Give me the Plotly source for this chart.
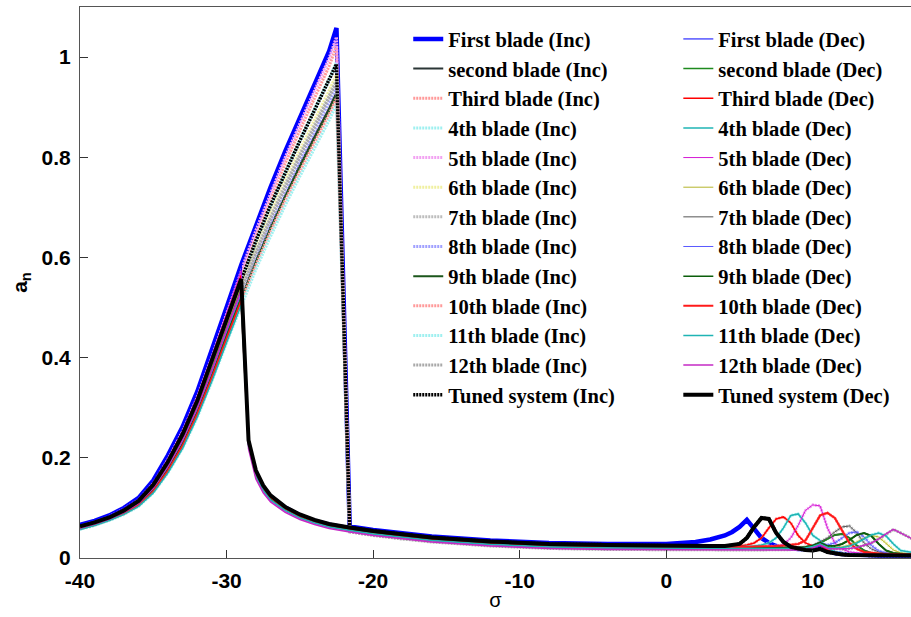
import plotly.graph_objects as go

# ---------------- data ----------------
SIGMA_UPPER = [-40, -39, -38, -37, -36, -35, -34, -33, -32, -31, -30, -29,
               -28, -27, -26, -25, -24, -23, -22.5]
SIGMA_LOWER = [-28.5, -28, -27.5, -27, -26, -25, -24, -23, -22, -21.6, -20, -18,
               -16, -12, -8, -4, 0, 2, 3, 4, 4.5, 5, 5.5, 6, 6.5, 7, 7.5, 8, 8.5,
               9, 9.5, 10, 10.5, 11, 11.5, 12, 12.5, 13, 13.5, 14, 14.5, 15, 15.5,
               16, 17]

BLADES = ["First blade", "second blade", "Third blade", "4th blade", "5th blade",
          "6th blade", "7th blade", "8th blade", "9th blade", "10th blade",
          "11th blade", "12th blade", "Tuned system"]

X_TICKS = [-40, -30, -20, -10, 0, 10]
X_TICK_TEXT = ["-40", "-30", "-20", "-10", "0", "10"]
Y_TICKS = [0, 0.2, 0.4, 0.6, 0.8, 1]
Y_TICK_TEXT = ["0", "0.2", "0.4", "0.6", "0.8", "1"]

# upper (resonant) branch amplitude a_n
UP_B1 = [0.066, 0.074, 0.085, 0.100, 0.120, 0.155, 0.205, 0.262, 0.332, 0.413, 0.500, 0.585, 0.665, 0.740, 0.812, 0.880, 0.945, 1.012, 1.058]
UP_B2 = [0.059, 0.067, 0.077, 0.090, 0.107, 0.136, 0.178, 0.229, 0.293, 0.367, 0.446, 0.522, 0.594, 0.662, 0.725, 0.785, 0.842, 0.898, 0.930]
UP_B3 = [0.063, 0.071, 0.082, 0.096, 0.115, 0.147, 0.194, 0.249, 0.317, 0.396, 0.481, 0.565, 0.644, 0.718, 0.788, 0.854, 0.918, 0.982, 1.022]
UP_B4 = [0.062, 0.070, 0.080, 0.094, 0.112, 0.143, 0.189, 0.243, 0.310, 0.388, 0.471, 0.553, 0.630, 0.702, 0.770, 0.834, 0.896, 0.956, 0.990]
UP_B5 = [0.064, 0.072, 0.083, 0.098, 0.117, 0.150, 0.198, 0.254, 0.323, 0.403, 0.489, 0.574, 0.654, 0.729, 0.800, 0.867, 0.932, 0.998, 1.040]
UP_B6 = [0.061, 0.069, 0.079, 0.093, 0.111, 0.141, 0.186, 0.239, 0.305, 0.381, 0.463, 0.543, 0.618, 0.688, 0.753, 0.815, 0.874, 0.933, 0.965]
UP_B7 = [0.061, 0.069, 0.079, 0.092, 0.110, 0.140, 0.184, 0.237, 0.302, 0.378, 0.459, 0.538, 0.612, 0.681, 0.746, 0.807, 0.865, 0.923, 0.955]
UP_B8 = [0.060, 0.068, 0.078, 0.091, 0.108, 0.137, 0.180, 0.232, 0.296, 0.371, 0.451, 0.528, 0.601, 0.669, 0.733, 0.793, 0.851, 0.908, 0.940]
UP_B9 = [0.059, 0.067, 0.077, 0.089, 0.106, 0.135, 0.177, 0.228, 0.291, 0.364, 0.443, 0.519, 0.591, 0.658, 0.721, 0.780, 0.837, 0.893, 0.925]
UP_B10 = [0.058, 0.066, 0.076, 0.088, 0.105, 0.133, 0.174, 0.224, 0.287, 0.360, 0.438, 0.514, 0.585, 0.652, 0.714, 0.773, 0.830, 0.886, 0.918]
UP_B11 = [0.057, 0.065, 0.075, 0.087, 0.103, 0.130, 0.170, 0.219, 0.281, 0.353, 0.430, 0.505, 0.576, 0.642, 0.704, 0.762, 0.818, 0.874, 0.906]
UP_B12 = [0.060, 0.068, 0.078, 0.091, 0.109, 0.139, 0.183, 0.235, 0.300, 0.375, 0.456, 0.534, 0.608, 0.677, 0.741, 0.802, 0.860, 0.918, 0.950]
UP_TUNED = [0.063, 0.071, 0.081, 0.095, 0.114, 0.146, 0.192, 0.247, 0.314, 0.392, 0.476, 0.557, 0.633, 0.704, 0.770, 0.833, 0.894, 0.953, 0.986]

# lower (non-resonant) branch amplitude a_n
LOW_B1 = [0.240, 0.178, 0.148, 0.128, 0.105, 0.089, 0.078, 0.070, 0.065, 0.063, 0.056, 0.049, 0.043, 0.035, 0.030, 0.028, 0.028, 0.032, 0.037, 0.045,
          0.052, 0.062, 0.076, 0.058, 0.040, 0.030, 0.024, 0.021, 0.019, 0.018, 0.018, 0.020, 0.024, 0.015, 0.010, 0.008, 0.007, 0.006, 0.006, 0.005, 0.005, 0.005, 0.005, 0.005, 0.005]
LOW_B2 = [0.228, 0.168, 0.139, 0.120, 0.098, 0.083, 0.073, 0.065, 0.060, 0.058, 0.051, 0.044, 0.038, 0.030, 0.025, 0.023, 0.022, 0.021, 0.021, 0.021,
          0.021, 0.021, 0.021, 0.021, 0.021, 0.021, 0.021, 0.021, 0.020, 0.020, 0.021, 0.024, 0.030, 0.038, 0.046, 0.048, 0.040, 0.025, 0.015, 0.010, 0.008, 0.007, 0.007, 0.006, 0.006]
LOW_B3 = [0.232, 0.172, 0.142, 0.122, 0.100, 0.085, 0.075, 0.067, 0.062, 0.060, 0.053, 0.046, 0.040, 0.032, 0.027, 0.025, 0.024, 0.023, 0.023, 0.023,
          0.023, 0.024, 0.026, 0.030, 0.040, 0.060, 0.078, 0.082, 0.070, 0.045, 0.030, 0.024, 0.026, 0.016, 0.010, 0.008, 0.007, 0.006, 0.006, 0.006, 0.005, 0.005, 0.005, 0.005, 0.005]
LOW_B4 = [0.226, 0.166, 0.137, 0.118, 0.097, 0.082, 0.072, 0.064, 0.059, 0.057, 0.050, 0.043, 0.037, 0.029, 0.024, 0.022, 0.021, 0.021, 0.021, 0.022,
          0.022, 0.022, 0.023, 0.024, 0.026, 0.030, 0.040, 0.060, 0.085, 0.088, 0.070, 0.045, 0.035, 0.020, 0.012, 0.009, 0.008, 0.007, 0.007, 0.006, 0.006, 0.006, 0.005, 0.005, 0.005]
LOW_B5 = [0.220, 0.160, 0.132, 0.114, 0.093, 0.079, 0.069, 0.061, 0.056, 0.054, 0.047, 0.040, 0.034, 0.026, 0.021, 0.019, 0.018, 0.018, 0.018, 0.018,
          0.018, 0.018, 0.019, 0.019, 0.020, 0.021, 0.023, 0.027, 0.040, 0.065, 0.095, 0.106, 0.104, 0.060, 0.030, 0.018, 0.012, 0.010, 0.009, 0.008, 0.008, 0.007, 0.007, 0.007, 0.007]
LOW_B6 = [0.224, 0.164, 0.136, 0.117, 0.096, 0.081, 0.071, 0.063, 0.058, 0.056, 0.049, 0.042, 0.036, 0.028, 0.023, 0.021, 0.020, 0.020, 0.020, 0.020,
          0.020, 0.020, 0.020, 0.020, 0.020, 0.020, 0.020, 0.020, 0.020, 0.020, 0.021, 0.024, 0.029, 0.022, 0.021, 0.022, 0.026, 0.032, 0.040, 0.045, 0.042, 0.030, 0.016, 0.010, 0.008]
LOW_B7 = [0.229, 0.169, 0.140, 0.121, 0.099, 0.084, 0.074, 0.066, 0.061, 0.059, 0.052, 0.045, 0.039, 0.031, 0.026, 0.024, 0.023, 0.022, 0.022, 0.022,
          0.022, 0.022, 0.022, 0.022, 0.022, 0.022, 0.022, 0.021, 0.021, 0.021, 0.022, 0.025, 0.032, 0.040, 0.052, 0.062, 0.064, 0.050, 0.030, 0.018, 0.012, 0.010, 0.009, 0.008, 0.008]
LOW_B8 = [0.225, 0.165, 0.137, 0.118, 0.097, 0.082, 0.072, 0.064, 0.059, 0.057, 0.050, 0.043, 0.037, 0.029, 0.024, 0.022, 0.021, 0.020, 0.020, 0.020,
          0.020, 0.020, 0.020, 0.020, 0.020, 0.020, 0.020, 0.020, 0.020, 0.020, 0.021, 0.024, 0.030, 0.026, 0.030, 0.040, 0.050, 0.052, 0.042, 0.025, 0.014, 0.010, 0.008, 0.007, 0.007]
LOW_B9 = [0.227, 0.167, 0.138, 0.119, 0.098, 0.083, 0.073, 0.065, 0.060, 0.058, 0.051, 0.044, 0.038, 0.030, 0.025, 0.023, 0.022, 0.021, 0.021, 0.021,
          0.021, 0.021, 0.021, 0.021, 0.021, 0.021, 0.021, 0.021, 0.021, 0.021, 0.022, 0.025, 0.031, 0.024, 0.024, 0.028, 0.036, 0.046, 0.050, 0.044, 0.028, 0.015, 0.010, 0.008, 0.007]
LOW_B10 = [0.230, 0.170, 0.141, 0.121, 0.099, 0.084, 0.074, 0.066, 0.061, 0.059, 0.052, 0.045, 0.039, 0.031, 0.026, 0.024, 0.023, 0.022, 0.022, 0.022,
           0.022, 0.022, 0.022, 0.023, 0.023, 0.024, 0.024, 0.025, 0.026, 0.028, 0.035, 0.060, 0.085, 0.090, 0.080, 0.055, 0.030, 0.018, 0.012, 0.010, 0.009, 0.008, 0.007, 0.007, 0.007]
LOW_B11 = [0.223, 0.163, 0.135, 0.116, 0.095, 0.080, 0.070, 0.062, 0.057, 0.055, 0.048, 0.041, 0.035, 0.027, 0.022, 0.020, 0.019, 0.019, 0.019, 0.019,
           0.019, 0.019, 0.019, 0.019, 0.019, 0.019, 0.019, 0.019, 0.019, 0.019, 0.020, 0.023, 0.028, 0.021, 0.020, 0.021, 0.024, 0.030, 0.038, 0.046, 0.050, 0.044, 0.028, 0.015, 0.010]
LOW_B12 = [0.218, 0.158, 0.130, 0.112, 0.091, 0.077, 0.067, 0.059, 0.054, 0.052, 0.045, 0.038, 0.032, 0.024, 0.019, 0.017, 0.016, 0.016, 0.016, 0.016,
           0.016, 0.016, 0.016, 0.016, 0.016, 0.016, 0.016, 0.016, 0.016, 0.016, 0.017, 0.020, 0.026, 0.019, 0.018, 0.018, 0.019, 0.021, 0.025, 0.030, 0.038, 0.048, 0.057, 0.050, 0.035]
LOW_TUNED = [0.235, 0.175, 0.145, 0.125, 0.102, 0.087, 0.076, 0.068, 0.063, 0.061, 0.054, 0.047, 0.041, 0.033, 0.028, 0.026, 0.025, 0.024, 0.024, 0.024,
             0.025, 0.028, 0.040, 0.062, 0.080, 0.078, 0.050, 0.032, 0.022, 0.018, 0.016, 0.015, 0.018, 0.012, 0.009, 0.007, 0.006, 0.006, 0.005, 0.005, 0.005, 0.005, 0.005, 0.005, 0.005]

UPPER = [UP_B1, UP_B2, UP_B3, UP_B4, UP_B5, UP_B6, UP_B7, UP_B8, UP_B9, UP_B10, UP_B11, UP_B12, UP_TUNED]
LOWER = [LOW_B1, LOW_B2, LOW_B3, LOW_B4, LOW_B5, LOW_B6, LOW_B7, LOW_B8, LOW_B9, LOW_B10, LOW_B11, LOW_B12, LOW_TUNED]

# ---------------- styles ----------------
FINE = "2px,1px"
INC_STYLE = [
    dict(color="#0000ff", width=4.5, dash="solid"),
    dict(color="#2b3636", width=2, dash="solid"),
    dict(color="#ff9a9a", width=3, dash=FINE),
    dict(color="#9ff0f0", width=3, dash=FINE),
    dict(color="#f2a2f2", width=3, dash=FINE),
    dict(color="#f0f0a0", width=3, dash=FINE),
    dict(color="#bdbdbd", width=3, dash=FINE),
    dict(color="#a0a0ff", width=3, dash=FINE),
    dict(color="#1b561b", width=2, dash="solid"),
    dict(color="#ff9a9a", width=3, dash=FINE),
    dict(color="#9ff0f0", width=3, dash=FINE),
    dict(color="#a9a9a9", width=3, dash=FINE),
    dict(color="#000000", width=3.5, dash=FINE),
]
DEC_STYLE = [
    dict(color="#0000ff", width=1),
    dict(color="#1e8a1e", width=1.5),
    dict(color="#ff0000", width=1.5),
    dict(color="#1fb4b4", width=1.5),
    dict(color="#d41ad4", width=1),
    dict(color="#b4b42a", width=1),
    dict(color="#555555", width=1),
    dict(color="#5a5aff", width=1),
    dict(color="#0b5e0b", width=1.5),
    dict(color="#ff1a1a", width=2),
    dict(color="#1fb4b4", width=1.5),
    dict(color="#c42ac4", width=1.5),
    dict(color="#000000", width=4),
]

fig = go.Figure()

n_lower_inc = SIGMA_LOWER.index(-21.6)
n_upper_dec = SIGMA_UPPER.index(-29)

for name, up, low, st in zip(BLADES, UPPER, LOWER, INC_STYLE):
    fig.add_trace(go.Scatter(
        x=SIGMA_UPPER + SIGMA_LOWER[n_lower_inc:],
        y=up + low[n_lower_inc:],
        mode="lines", name=name + " (Inc)", line=st, legend="legend"))

for name, up, low, st in zip(BLADES, UPPER, LOWER, DEC_STYLE):
    fig.add_trace(go.Scatter(
        x=SIGMA_LOWER[::-1] + SIGMA_UPPER[:n_upper_dec + 1][::-1],
        y=low[::-1] + up[:n_upper_dec + 1][::-1],
        mode="lines", name=name + " (Dec)", line=st, legend="legend2"))

tick_font = dict(family="Liberation Sans, Arial, sans-serif", size=21, color="#000", weight="bold")
legend_font = dict(family="Liberation Serif, Times New Roman, serif", size=20.5, color="#000", weight="bold")

fig.update_layout(
    width=911, height=617,
    margin=dict(l=80, r=0, t=7, b=59),
    paper_bgcolor="white", plot_bgcolor="white",
    xaxis=dict(range=[-40, 16.7], tickvals=X_TICKS, ticktext=X_TICK_TEXT,
               ticks="inside", ticklen=8, tickcolor="#333", showgrid=False, zeroline=False,
               showline=True, linecolor="#555", linewidth=1, mirror=True,
               tickfont=tick_font, ticklabelstandoff=4,
               title=dict(text="σ", font=dict(family="Liberation Sans, Arial", size=20, color="#000"), standoff=1)),
    yaxis=dict(range=[0, 1.1], tickvals=Y_TICKS, ticktext=Y_TICK_TEXT,
               ticks="inside", ticklen=8, tickcolor="#333", showgrid=False, zeroline=False,
               showline=True, linecolor="#555", linewidth=1, mirror=False,
               tickfont=tick_font, ticklabelstandoff=4,
               title=dict(text="a<sub>n</sub>", font=dict(family="Liberation Sans, Arial", size=21, color="#000", weight="bold"), standoff=8)),
    legend=dict(x=0.395, y=0.978, xanchor="left", yanchor="top", bgcolor="rgba(0,0,0,0)",
                font=legend_font, tracegroupgap=0, itemclick=False),
    legend2=dict(x=0.72, y=0.978, xanchor="left", yanchor="top", bgcolor="rgba(0,0,0,0)",
                 font=legend_font, tracegroupgap=0, itemclick=False),
    showlegend=True,
)

fig.write_html("out.html")
